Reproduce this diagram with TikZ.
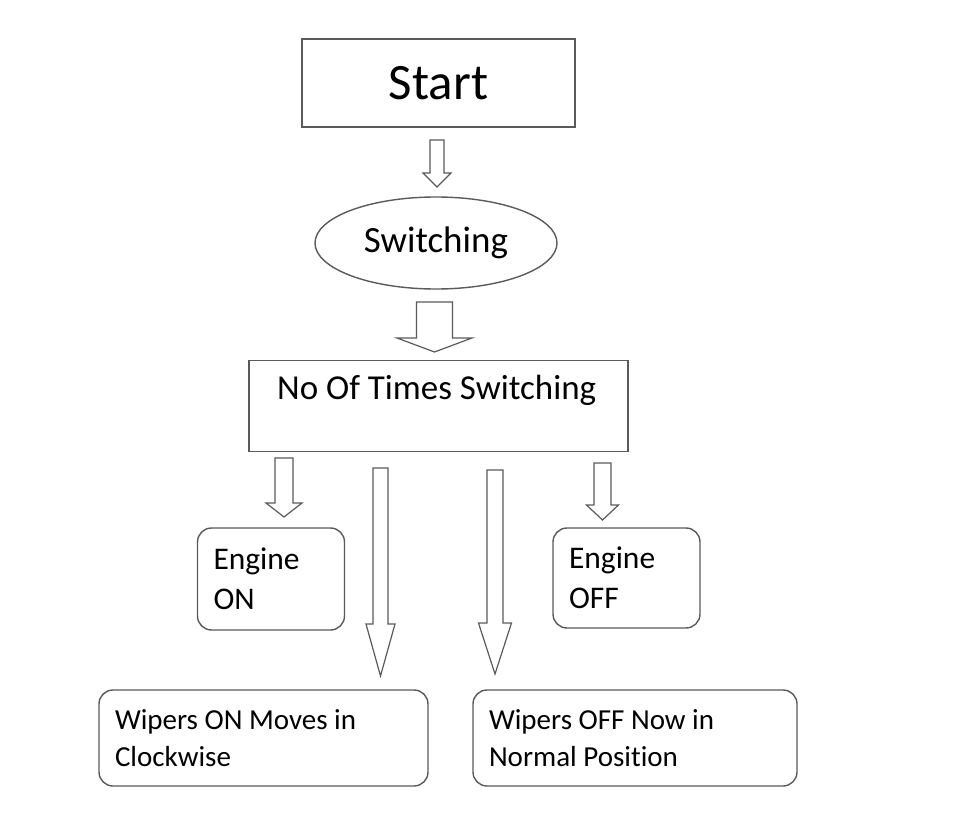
\documentclass[tikz,border=0pt]{standalone}
\usepackage{fontspec}
\setmainfont{Carlito}[Ligatures={NoCommon,NoDiscretionary,NoRare}]
\usetikzlibrary{shapes.geometric}
\definecolor{edge}{HTML}{5A5A5A}
\newcommand{\myblockarrow}[7]{%
  % #1 name, #2 cx, #3 top, #4 shaft bottom, #5 tip, #6 shaft half, #7 head half
  \draw[blockarrow] (#2-#6,#3) -- (#2+#6,#3) -- (#2+#6,#4) -- (#2+#7,#4) -- (#2,#5)
    -- (#2-#7,#4) -- (#2-#6,#4) -- cycle;
  \coordinate (#1) at (#2,#5);}
\begin{document}
\begin{tikzpicture}[x=1pt,y=-1pt,
  box/.style={draw=edge,line width=1.4pt,fill=white,inner sep=0pt},
  rbox/.style={box,rounded corners=14pt,align=flush left,inner xsep=16pt,font=\fontsize{31.5}{40}\selectfont},
  wbox/.style={rbox,font=\fontsize{29}{37}\selectfont},
  blockarrow/.style={draw=edge,line width=1.2pt,fill=white,line join=miter},
  lbl/.style={inner sep=0pt,text=black}]
\useasboundingbox (0,0) rectangle (959,813);
% Start
\node[box,minimum width=273pt,minimum height=88pt,font=\fontsize{51}{60}\selectfont] (start) at (438.5,83) {Start};
% Switching ellipse
\node[box,ellipse,minimum width=242pt,minimum height=92pt,font=\fontsize{37}{44}\selectfont] (sw) at (436,243) {Switching};
% No of times box
\node[box,minimum width=379pt,minimum height=91pt] (times) at (438.5,406) {};
\node[lbl,anchor=base west,font=\fontsize{35}{40}\selectfont] (timestxt) at (277,399) {No Of Times Switching};
% Engine boxes
\node[rbox,text width=115pt,minimum height=102pt] (engon) at (271,579) {Engine\\ON};
\node[rbox,text width=115pt,minimum height=100pt] (engoff) at (626.5,578) {Engine\\OFF};
% Wipers boxes
\node[wbox,text width=297pt,minimum height=96pt] (wipon) at (263.5,738) {Wipers ON Moves in\\Clockwise};
\node[wbox,text width=292pt,minimum height=96pt] (wipoff) at (635,738) {Wipers OFF Now in\\Normal Position};
% Block arrows
\myblockarrow{a1}{437}{140}{173}{187}{7}{14}
\myblockarrow{a2}{434.5}{302}{338}{352}{18}{37.5}
\myblockarrow{a3}{284}{458}{503}{517}{9}{18}
\myblockarrow{a4}{380.5}{468}{624}{676}{7.5}{14.5}
\myblockarrow{a5}{495}{470}{623}{674}{8}{16.5}
\myblockarrow{a6}{602.5}{463}{505}{520}{8.5}{16}
\end{tikzpicture}
\end{document}
